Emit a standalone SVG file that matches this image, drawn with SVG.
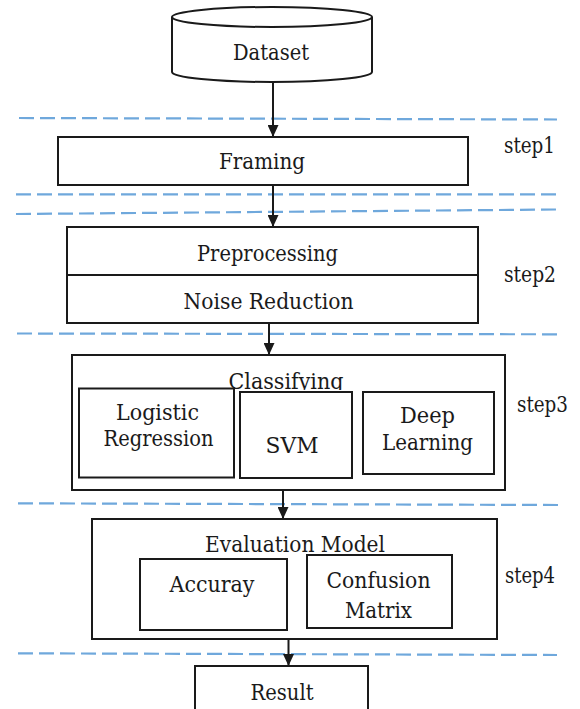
<svg xmlns="http://www.w3.org/2000/svg" width="580" height="709" viewBox="0 0 580 709">
<style>
  .box { fill: #fff; stroke: #1a1a1a; stroke-width: 2; }
  .lbl { font-family: 'DejaVu Serif', serif; font-size: 23px; fill: #1a1a1a; text-anchor: middle; }
  .step { font-family: 'DejaVu Serif', serif; font-size: 22px; fill: #1a1a1a; }
  .sep { stroke: #6FA8DC; stroke-width: 2.2; stroke-dasharray: 15 6; fill: none; }
  .conn { stroke: #1a1a1a; stroke-width: 2; fill: none; marker-end: url(#arrow); }
</style>
<defs>
  <marker id="arrow" markerUnits="userSpaceOnUse" markerWidth="12" markerHeight="11" refX="12" refY="5.5" orient="auto">
    <path d="M0,0 L12,5.5 L0,11 z" fill="#1a1a1a"/>
  </marker>
  <clipPath id="clipClass">
    <rect x="150" y="360" width="250" height="30"/>
  </clipPath>
</defs>
<rect width="580" height="709" fill="#fff"/>

<g id="separators">
  <line class="sep" x1="19" y1="118" x2="557" y2="119.5"/>
  <line class="sep" x1="16" y1="194.3" x2="557" y2="194.3"/>
  <line class="sep" x1="16" y1="214" x2="558" y2="209.5"/>
  <line class="sep" x1="17" y1="333.5" x2="557" y2="334.3"/>
  <line class="sep" x1="18" y1="503.3" x2="562" y2="505"/>
  <line class="sep" x1="18" y1="653.3" x2="557" y2="655"/>
</g>

<g id="step-labels">
  <text class="step" x="504" y="153" textLength="51" lengthAdjust="spacingAndGlyphs">step1</text>
  <text class="step" x="504" y="282" textLength="52" lengthAdjust="spacingAndGlyphs">step2</text>
  <text class="step" x="517" y="412" textLength="51" lengthAdjust="spacingAndGlyphs">step3</text>
  <text class="step" x="505" y="583" textLength="50" lengthAdjust="spacingAndGlyphs">step4</text>
</g>

<g id="connectors">
  <line class="conn" x1="273" y1="83" x2="273" y2="137"/>
  <line class="conn" x1="273" y1="185" x2="273" y2="227"/>
  <line class="conn" x1="269" y1="323" x2="269" y2="355"/>
  <line class="conn" x1="283" y1="490" x2="283" y2="519"/>
  <line class="conn" x1="288.5" y1="639" x2="288.5" y2="666"/>
</g>

<g id="dataset">
  <path class="box" d="M172,17 L172,72 A100,10 0 0,0 372,72 L372,17"/>
  <ellipse class="box" cx="272" cy="17" rx="100" ry="10"/>
  <text class="lbl" x="271" y="60" textLength="76" lengthAdjust="spacingAndGlyphs">Dataset</text>
</g>

<g id="framing">
  <rect class="box" x="58" y="137" width="410" height="48"/>
  <text class="lbl" x="262" y="169" textLength="86" lengthAdjust="spacingAndGlyphs">Framing</text>
</g>

<g id="preprocessing">
  <rect class="box" x="67" y="227" width="411" height="96"/>
  <line x1="67" y1="275" x2="478" y2="275" stroke="#1a1a1a" stroke-width="2"/>
  <text class="lbl" x="267.5" y="261" textLength="141" lengthAdjust="spacingAndGlyphs">Preprocessing</text>
  <text class="lbl" x="268.5" y="309" textLength="170" lengthAdjust="spacingAndGlyphs">Noise Reduction</text>
</g>

<g id="classifying">
  <rect class="box" x="72" y="355" width="433" height="135"/>
  <text class="lbl" x="286" y="389" clip-path="url(#clipClass)" textLength="115" lengthAdjust="spacingAndGlyphs">Classifying</text>
  <g id="logistic-regression">
    <rect class="box" x="79" y="388.5" width="155" height="89"/>
    <text class="lbl" x="157.5" y="420" textLength="83" lengthAdjust="spacingAndGlyphs">Logistic</text>
    <text class="lbl" x="158.5" y="446" textLength="110" lengthAdjust="spacingAndGlyphs">Regression</text>
  </g>
  <g id="svm">
    <rect class="box" x="240" y="392" width="112" height="86"/>
    <text class="lbl" x="292" y="453" textLength="53" lengthAdjust="spacingAndGlyphs">SVM</text>
  </g>
  <g id="deep-learning">
    <rect class="box" x="363" y="392" width="131" height="82"/>
    <text class="lbl" x="427.5" y="423" textLength="55" lengthAdjust="spacingAndGlyphs">Deep</text>
    <text class="lbl" x="427.5" y="450" textLength="91" lengthAdjust="spacingAndGlyphs">Learning</text>
  </g>
</g>

<g id="evaluation">
  <rect class="box" x="92" y="519" width="405" height="120"/>
  <text class="lbl" x="295" y="552" textLength="180" lengthAdjust="spacingAndGlyphs">Evaluation Model</text>
  <g id="accuracy">
    <rect class="box" x="140" y="559" width="147" height="71"/>
    <text class="lbl" x="212" y="592" textLength="85" lengthAdjust="spacingAndGlyphs">Accuray</text>
  </g>
  <g id="confusion-matrix">
    <rect class="box" x="307" y="555" width="145" height="73"/>
    <text class="lbl" x="378.5" y="588" textLength="104" lengthAdjust="spacingAndGlyphs">Confusion</text>
    <text class="lbl" x="378.5" y="618" textLength="67" lengthAdjust="spacingAndGlyphs">Matrix</text>
  </g>
</g>

<g id="result">
  <rect class="box" x="195" y="666" width="173" height="60"/>
  <text class="lbl" x="282" y="700" textLength="63" lengthAdjust="spacingAndGlyphs">Result</text>
</g>
</svg>
